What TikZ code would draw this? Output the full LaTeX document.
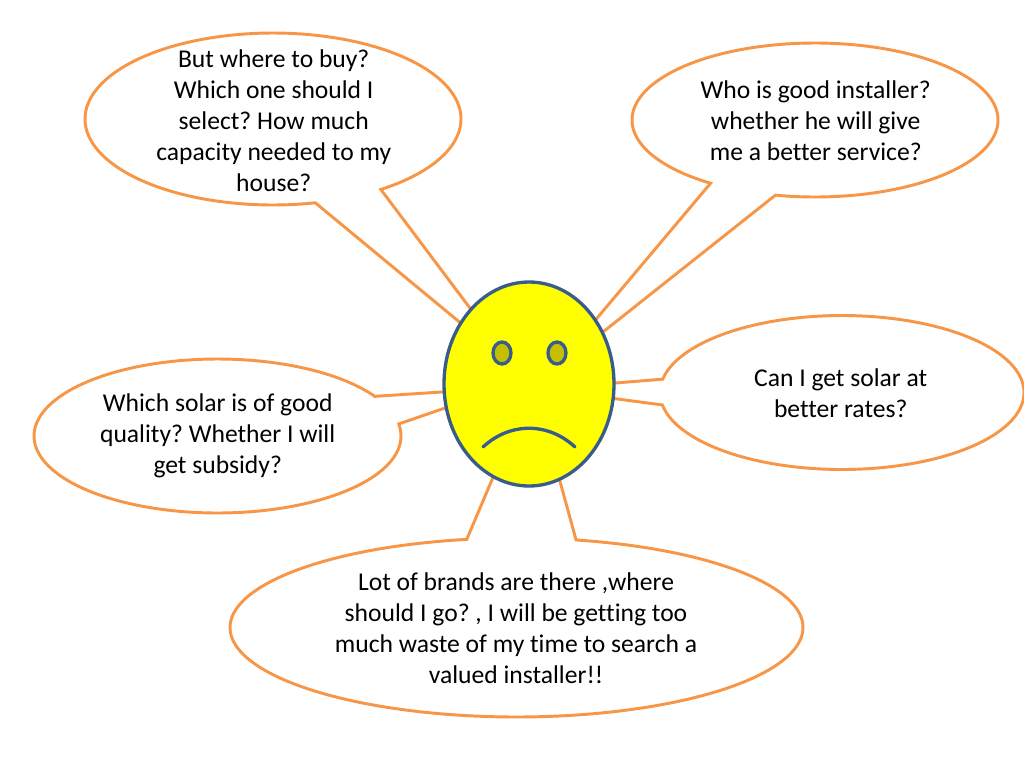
\documentclass[tikz,border=0pt]{standalone}
\usepackage{fontspec}
\setmainfont[Ligatures=NoCommon]{Carlito}
\definecolor{bubble}{RGB}{247,150,70}
\definecolor{faceline}{RGB}{56,93,138}
\definecolor{eyefill}{RGB}{198,190,0}
\definecolor{facefill}{RGB}{255,255,0}
\tikzset{
  x=0.75pt,y=-0.75pt,
  bubble/.style={draw=bubble,line width=2.2pt,fill=white,line join=miter},
  facepart/.style={draw=faceline,line width=2.5pt,line cap=round},
  say/.style={font=\fontsize{19.2pt}{23.2pt}\selectfont,align=center,text=black,inner sep=0pt}
}
\newcommand{\callout}[8]{% cx rx cy ry a b tipx tipy
  \draw[bubble] plot[domain=#5:#6,samples=160] ({#1+#2*cos(\x)},{#3+#4*sin(\x)}) -- (#7,#8) -- cycle;
}
\begin{document}
\frenchspacing
\begin{tikzpicture}
\useasboundingbox (0,0) rectangle (1024,768);
% top left
\callout{273}{188}{119}{86}{77}{415}{515}{368}
% top right
\callout{815}{183}{120}{77}{124.8}{462.5}{550}{374}
% right
\callout{842}{182}{392.5}{77}{190}{530.7}{542}{389}
% left
\callout{217.5}{183.5}{436}{77}{-9}{329}{503}{388}
% bottom
\callout{516.5}{286.5}{627.5}{89.5}{-78}{260}{533}{383}
% face
\node[draw=none,fill=none,inner sep=0pt] (c) at (529,384) {};
\draw[facepart,fill=facefill] (c) ellipse[x radius=85,y radius=102];
\draw[facepart,fill=eyefill] (502,353) ellipse[x radius=9,y radius=11];
\draw[facepart,fill=eyefill] (557,353) ellipse[x radius=9,y radius=11];
\draw[facepart] (483,447) .. controls (510,422) and (548,422) .. (575,447);
% texts
\node[say] (t1) at (273.7,120.6) {But where to buy?\\Which one should I\\select? How much\\capacity needed to my\\house?};
\node[say] (t2) at (815.7,120.5) {Who is good installer?\\whether he will give\\me a better service?};
\node[say] (t3) at (840.7,393) {Can I get solar at\\better rates?};
\node[say] (t4) at (217.7,436) {Which solar is of good\\quality? Whether I will\\get subsidy?};
\node[say] (t5) at (516,628) {Lot of brands are there ,where\\should I go? , I will be getting too\\much waste of my time to search a\\valued installer!!};
\end{tikzpicture}
\end{document}
